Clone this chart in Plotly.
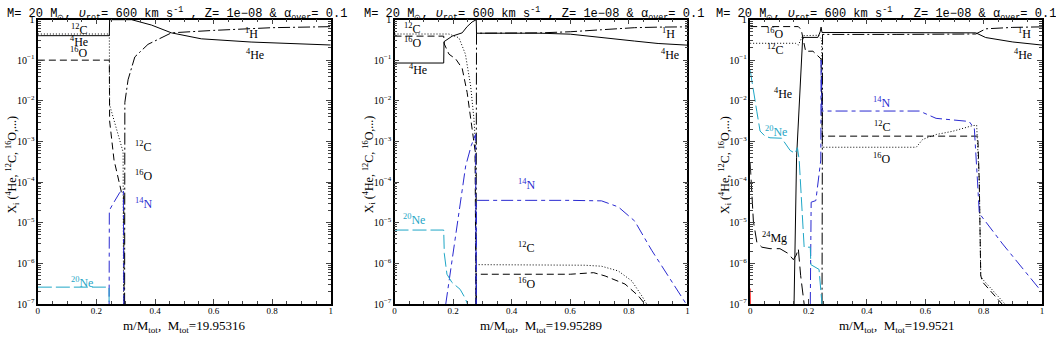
import plotly.graph_objects as go

# panel 1 : M_tot = 19.95316
p1_h_m = [0.296, 0.297, 0.308, 0.331, 0.376, 0.456, 0.6, 0.8, 1.0]
p1_h_x = [1e-8, 9.1e-3, 0.033, 0.12, 0.245, 0.47, 0.54, 0.63, 0.667]
p1_he_m = [0, 0.244, 0.245, 0.32, 0.388, 0.456, 0.558, 0.728, 1.0]
p1_he_x = [0.40, 0.40, 0.99, 0.99, 0.73, 0.47, 0.335, 0.279, 0.236]
p1_c_m = [0, 0.244, 0.245, 0.291, 0.293]
p1_c_x = [0.44, 0.44, 7.9e-3, 5.5e-4, 1e-8]
p1_o_m = [0, 0.244, 0.245, 0.26, 0.285, 0.293, 0.295]
p1_o_x = [0.10, 0.10, 3.2e-3, 3.5e-4, 5.8e-5, 5e-5, 1e-8]
p1_n_m = [0.243, 0.244, 0.255, 0.28, 0.292, 0.294]
p1_n_x = [1e-8, 2.0e-5, 2.8e-5, 5.6e-5, 6.3e-5, 1e-8]
p1_ne_m = [0, 0.243, 0.244]
p1_ne_x = [2.6e-7, 2.6e-7, 1e-8]

# panel 2 : M_tot = 19.95289
p2_h_m = [0.278, 0.28, 0.5, 0.6, 0.707, 0.82, 0.9, 1.0]
p2_h_x = [1e-8, 0.46, 0.47, 0.5, 0.56, 0.63, 0.65, 0.66]
p2_he_m = [0, 0.168, 0.169, 0.197, 0.231, 0.248, 0.265, 0.276, 0.279, 0.28, 0.5, 0.6, 0.707, 0.82, 0.9, 1.0]
p2_he_x = [0.085, 0.085, 0.285, 0.39, 0.47, 0.67, 0.87, 0.99, 0.99, 0.46, 0.46, 0.436, 0.355, 0.295, 0.257, 0.234]
p2_c_m = [0, 0.186, 0.22, 0.242, 0.26, 0.271, 0.276, 0.279, 0.28, 0.65, 0.707, 0.764, 0.81, 0.844, 0.861]
p2_c_x = [0.44, 0.44, 0.355, 0.141, 0.023, 3.7e-3, 1.0e-3, 1e-8, 9.3e-7, 9.0e-7, 8.5e-7, 6.5e-7, 3.7e-7, 1.6e-7, 1e-7]
p2_o_m = [0, 0.168, 0.17, 0.186, 0.209, 0.231, 0.248, 0.265, 0.275, 0.279, 0.28, 0.6, 0.68, 0.719, 0.787, 0.832, 0.855]
p2_o_x = [0.39, 0.39, 0.25, 0.14, 0.107, 0.063, 0.016, 2.1e-3, 6.0e-4, 1e-8, 5.4e-7, 5.4e-7, 5.9e-7, 4.9e-7, 3.1e-7, 1.6e-7, 1e-7]
p2_n_m = [0.175, 0.243, 0.262, 0.277, 0.279, 0.28, 0.6, 0.707, 0.764, 0.82, 0.878, 0.934, 0.98, 1.0]
p2_n_x = [1e-7, 2.5e-4, 7.9e-4, 1.5e-3, 1e-8, 3.55e-5, 3.55e-5, 3.45e-5, 2.45e-5, 1.1e-5, 2.1e-6, 4.9e-7, 1.4e-7, 9e-8]
p2_ne_m = [0, 0.168, 0.17, 0.179, 0.196, 0.224, 0.241, 0.249]
p2_ne_x = [6.6e-6, 6.6e-6, 1.74e-6, 5.4e-7, 3.4e-7, 2.3e-7, 1.4e-7, 1e-7]

# panel 3 : M_tot = 19.9521
p3_h_m = [0.246, 0.248, 0.5, 0.773, 0.807, 0.9, 1.0]
p3_h_x = [1e-8, 0.43, 0.43, 0.44, 0.59, 0.64, 0.66]
p3_he_m = [0.148, 0.159, 0.18, 0.232, 0.24, 0.243, 0.246, 0.5, 0.773, 0.807, 0.9, 1.0]
p3_he_x = [1e-8, 4e-4, 0.363, 0.363, 0.5, 0.65, 0.48, 0.48, 0.47, 0.36, 0.28, 0.235]
p3_c_m = [0, 0.155, 0.165, 0.18, 0.235, 0.245, 0.247, 0.569, 0.591, 0.637, 0.694, 0.762, 0.776, 0.785, 0.79, 0.796, 0.841, 0.873]
p3_c_x = [0.26, 0.26, 0.235, 0.40, 0.41, 0.32, 7.2e-4, 7.2e-4, 1.12e-3, 1.48e-3, 1.78e-3, 2.45e-3, 2.5e-3, 1e-4, 5e-7, 4.1e-7, 1.8e-7, 1e-7]
p3_o_m = [0, 0.165, 0.175, 0.185, 0.19, 0.215, 0.23, 0.243, 0.247, 0.78, 0.785, 0.79, 0.796, 0.863]
p3_o_x = [0.67, 0.67, 0.56, 0.22, 0.166, 0.166, 0.13, 0.107, 1.35e-3, 1.35e-3, 1e-4, 5e-7, 3.5e-7, 1e-7]
p3_n_m = [0.206, 0.209, 0.225, 0.242, 0.243, 0.246, 0.58, 0.637, 0.75, 0.768, 0.779, 0.785, 0.865, 1.0]
p3_n_x = [1e-7, 3.2e-5, 3.5e-5, 3.5e-4, 0.1, 5.6e-3, 5.6e-3, 3.7e-3, 3.1e-3, 2.1e-3, 1e-4, 1.7e-5, 3e-6, 1.95e-7]
p3_ne_m = [0, 0.011, 0.023, 0.034, 0.051, 0.068, 0.108, 0.137, 0.154, 0.162, 0.168, 0.185, 0.206, 0.208, 0.236, 0.246]
p3_ne_x = [0.057, 0.016, 5.4e-3, 1.8e-3, 1.35e-3, 1.23e-3, 1.2e-3, 6e-4, 5.1e-4, 7e-4, 3.5e-4, 2.5e-6, 2.5e-6, 9.3e-7, 7.1e-7, 1e-7]
p3_mg_m = [0, 0.005, 0.011, 0.023, 0.04, 0.068, 0.102, 0.131, 0.148, 0.158, 0.165, 0.173, 0.185]
p3_mg_x = [3e-4, 6e-5, 1.1e-5, 3.3e-6, 2.5e-6, 2.3e-6, 2.3e-6, 1.74e-6, 1.23e-6, 1.6e-6, 2.3e-6, 5e-7, 1e-7]
p3_red_m = [0, 0.003]
p3_red_x = [2.4e-7, 1e-8]

m_tot = ["19.95316", "19.95289", "19.9521"]

BLUE = "#2a2ad0"
CYAN = "#1fa6c6"
SERIF = "Liberation Serif"
MONO = "Liberation Mono"

styles = {
    "h": ("black", "12px,3px,2px,3px"),
    "he": ("black", "solid"),
    "c": ("black", "1px,2px"),
    "o": ("black", "7px,4px"),
    "n": (BLUE, "12px,4px,4px,4px"),
    "ne": (CYAN, "14px,4px"),
    "mg": ("black", "12px,5px"),
    "red": ("red", "solid"),
}

panels = [
    [("h", p1_h_m, p1_h_x), ("he", p1_he_m, p1_he_x), ("c", p1_c_m, p1_c_x),
     ("o", p1_o_m, p1_o_x), ("n", p1_n_m, p1_n_x), ("ne", p1_ne_m, p1_ne_x)],
    [("h", p2_h_m, p2_h_x), ("he", p2_he_m, p2_he_x), ("c", p2_c_m, p2_c_x),
     ("o", p2_o_m, p2_o_x), ("n", p2_n_m, p2_n_x), ("ne", p2_ne_m, p2_ne_x)],
    [("h", p3_h_m, p3_h_x), ("he", p3_he_m, p3_he_x), ("c", p3_c_m, p3_c_x),
     ("o", p3_o_m, p3_o_x), ("n", p3_n_m, p3_n_x), ("ne", p3_ne_m, p3_ne_x),
     ("mg", p3_mg_m, p3_mg_x), ("red", p3_red_m, p3_red_x)],
]

# species labels: (text, m, log10 X, colour)
labels = [
    [("<sup>12</sup>C", 0.14, -0.25, "black"), ("<sup>4</sup>He", 0.14, -0.54, "black"),
     ("<sup>16</sup>O", 0.14, -0.82, "black"), ("<sup>1</sup>H", 0.73, -0.35, "black"),
     ("<sup>4</sup>He", 0.74, -0.85, "black"), ("<sup>12</sup>C", 0.36, -3.13, "black"),
     ("<sup>16</sup>O", 0.36, -3.84, "black"), ("<sup>14</sup>N", 0.36, -4.53, BLUE),
     ("<sup>20</sup>Ne", 0.15, -6.48, CYAN)],
    [("<sup>12</sup>C", 0.06, -0.23, "black"), ("<sup>16</sup>O", 0.06, -0.56, "black"),
     ("<sup>4</sup>He", 0.08, -1.23, "black"), ("<sup>1</sup>H", 0.935, -0.35, "black"),
     ("<sup>4</sup>He", 0.94, -0.87, "black"), ("<sup>14</sup>N", 0.45, -4.05, BLUE),
     ("<sup>20</sup>Ne", 0.065, -4.93, CYAN), ("<sup>12</sup>C", 0.45, -5.62, "black"),
     ("<sup>16</sup>O", 0.45, -6.5, "black")],
    [("<sup>16</sup>O", 0.085, -0.35, "black"), ("<sup>12</sup>C", 0.085, -0.73, "black"),
     ("<sup>4</sup>He", 0.113, -1.82, "black"), ("<sup>1</sup>H", 0.94, -0.35, "black"),
     ("<sup>4</sup>He", 0.935, -0.87, "black"), ("<sup>14</sup>N", 0.45, -2.04, BLUE),
     ("<sup>20</sup>Ne", 0.09, -2.75, CYAN), ("<sup>12</sup>C", 0.45, -2.63, "black"),
     ("<sup>16</sup>O", 0.45, -3.41, "black"), ("<sup>24</sup>Mg", 0.083, -5.36, "black")],
]

title = ("M= 20 M<sub>\u2299</sub>, <i>\u03c5</i><sub>rot</sub>= 600 km s<sup>-1</sup> , "
         "Z= 1e\u221208 & \u03b1<sub>over</sub>= 0.1")
ytitle = "X<sub>i</sub> (<sup>4</sup>He, <sup>12</sup>C, <sup>16</sup>O,...)"

W, H = 1056, 340
x_px = [(36, 330), (394, 688), (751, 1044)]
title_shift = [-7, -7, -10]
y_dom = [1 - 309 / H, 1 - 15 / H]

fig = go.Figure()
annotations = []
for i, series in enumerate(panels):
    sfx = "" if i == 0 else str(i + 1)
    for key, m, x in series:
        col, dash = styles[key]
        fig.add_trace(go.Scatter(x=m, y=x, mode="lines", xaxis="x" + sfx, yaxis="y" + sfx,
                                 line=dict(color=col, width=1, dash=dash), showlegend=False,
                                 hoverinfo="skip"))
    dom = [x_px[i][0] / W, x_px[i][1] / W]
    fig.update_layout(**{
        "xaxis" + sfx: dict(domain=dom, anchor="y" + sfx, range=[0, 1], tickvals=[0, 0.2, 0.4, 0.6, 0.8, 1],
                            ticktext=["0", "0.2", "0.4", "0.6", "0.8", "1"], ticks="inside", ticklen=5,
                            ticklabelstandoff=-3,
                            minor=dict(ticks="inside", ticklen=3, dtick=0.05, showgrid=False),
                            showline=True, linecolor="black", linewidth=1.5, mirror="allticks",
                            showgrid=False, zeroline=False, tickfont=dict(family=SERIF, size=9)),
        "yaxis" + sfx: dict(domain=y_dom, anchor="x" + sfx, type="log", range=[-7, 0], dtick=1,
                            exponentformat="power", ticks="inside", ticklen=5,
                            minor=dict(ticks="inside", ticklen=3, showgrid=False),
                            showline=True, linecolor="black", linewidth=1.5, mirror="allticks",
                            showgrid=False, zeroline=False, tickfont=dict(family=SERIF, size=8)),
    })
    xc = (x_px[i][0] + x_px[i][1]) / 2 / W
    annotations.append(dict(text=title, x=xc + title_shift[i] / W, y=1 + 2 / H, xref="paper", yref="paper",
                            yanchor="top", xanchor="center", showarrow=False,
                            font=dict(family=MONO, size=12, color="black")))
    annotations.append(dict(text="m/M<sub>tot</sub>,  M<sub>tot</sub>=" + m_tot[i], x=xc, y=1 - 332 / H,
                            xref="paper", yref="paper", yanchor="middle", xanchor="center", showarrow=False,
                            font=dict(family=SERIF, size=13, color="black")))
    annotations.append(dict(text=ytitle, x=(x_px[i][0] - 25) / W, y=1 - 165 / H, xref="paper", yref="paper",
                            xanchor="center", yanchor="middle", textangle=-90, showarrow=False,
                            font=dict(family=SERIF, size=12, color="black")))
    for txt, m, ly, col in labels[i]:
        annotations.append(dict(text=txt, x=m, y=ly, xref="x" + sfx, yref="y" + sfx, showarrow=False,
                                xanchor="center", yanchor="middle",
                                font=dict(family=SERIF, size=12, color=col)))

fig.update_layout(width=W, height=H, margin=dict(l=0, r=0, t=0, b=0), plot_bgcolor="white",
                  paper_bgcolor="white", annotations=annotations, font=dict(family=SERIF, color="black"))
fig.write_html("out.html", config={"displayModeBar": False},
               post_script="document.body.style.margin='0px';")
